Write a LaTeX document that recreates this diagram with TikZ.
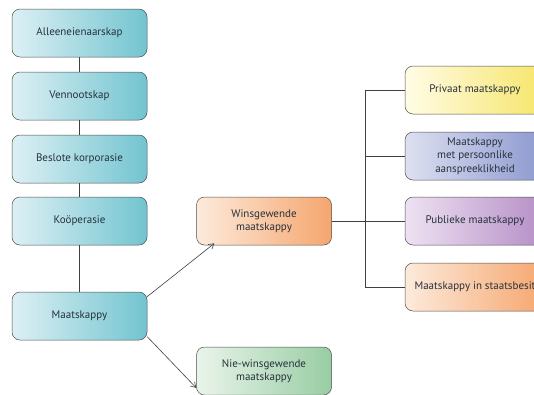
\documentclass[tikz,border=0pt]{standalone}
\usepackage{fontspec}
\setmainfont{PT Sans}
\usepackage{tikz}
\usetikzlibrary{arrows.meta}

\definecolor{tealL}{HTML}{DDF0F4}
\definecolor{tealD}{HTML}{72C4D0}
\definecolor{peachL}{HTML}{FDEADB}
\definecolor{peachD}{HTML}{F5A66E}
\definecolor{greenL}{HTML}{EAF4EA}
\definecolor{greenD}{HTML}{98CDA3}
\definecolor{yellowL}{HTML}{FFFCE6}
\definecolor{yellowD}{HTML}{F6E56A}
\definecolor{blueL}{HTML}{DDE0F0}
\definecolor{blueD}{HTML}{8C98CF}
\definecolor{violetL}{HTML}{EEE2F2}
\definecolor{violetD}{HTML}{B58DC6}
\definecolor{inkText}{HTML}{26313C}

\begin{document}
\begin{tikzpicture} [
    x=1pt, y=-1pt,
    every node/.style = {draw=black!70, line width=0.5pt, rounded corners=8pt,
        minimum width=135pt, minimum height=48pt, align=center, inner xsep=1pt,
        text=inkText, font=\fontsize{11}{13.5}\selectfont},
    teal/.style = {left color=tealL, right color=tealD},
    peach/.style = {left color=peachL, right color=peachD},
    mint/.style = {left color=greenL, right color=greenD},
    lemon/.style = {left color=yellowL, right color=yellowD},
    lilac/.style = {left color=blueL, right color=blueD},
    plum/.style = {left color=violetL, right color=violetD},
    link/.style = {draw=black!75, line width=0.6pt},
    arr/.style = {link, -{Straight Barb[length=5pt, width=6pt]}}
]
    \useasboundingbox (0,0) rectangle (534,394);
    \clip (0,0) rectangle (534,394);

    % left column
    \node [teal] (alleen) at (79.5,33) {Alleeneienaarskap};
    \node [teal] (venn) at (79.5,96) {Vennootskap};
    \node [teal] (besl) at (79.5,159) {Beslote korporasie};
    \node [teal] (koop) at (79.5,221) {Koöperasie};
    \node [teal] (maat) at (79.5,316) {Maatskappy};

    % middle
    \node [peach] (wins) at (264,221) {Winsgewende\\maatskappy};
    \node [mint] (nie) at (264,371) {Nie-winsgewende\\maatskappy};

    % right column
    \node [lemon, minimum width=140pt] (priv) at (475,90) {Privaat maatskappy};
    \node [lilac, minimum width=140pt] (pers) at (475,156) {Maatskappy\\met persoonlike\\aanspreeklikheid};
    \node [plum, minimum width=140pt] (publ) at (475,221) {Publieke maatskappy};
    \node [peach, minimum width=140pt] (staat) at (475,287) {Maatskappy in staatsbesit};

    \coordinate (trunk) at (365,221);

    \draw [link] (alleen) -- (venn);
    \draw [link] (venn) -- (besl);
    \draw [link] (besl) -- (koop);
    \draw [link] (koop) -- (maat);

    \draw [arr, shorten >=-3pt] (maat.16) -- (wins.-155);
    \draw [arr] (maat.-17) -- (nie.-166);

    \draw [link] (wins) -- (trunk);
    \draw [link] (trunk |- priv) -- (trunk |- staat);
    \foreach \b in {priv, pers, publ, staat}
        \draw [link] (trunk |- \b) -- (\b.west);
\end{tikzpicture}
\end{document}
